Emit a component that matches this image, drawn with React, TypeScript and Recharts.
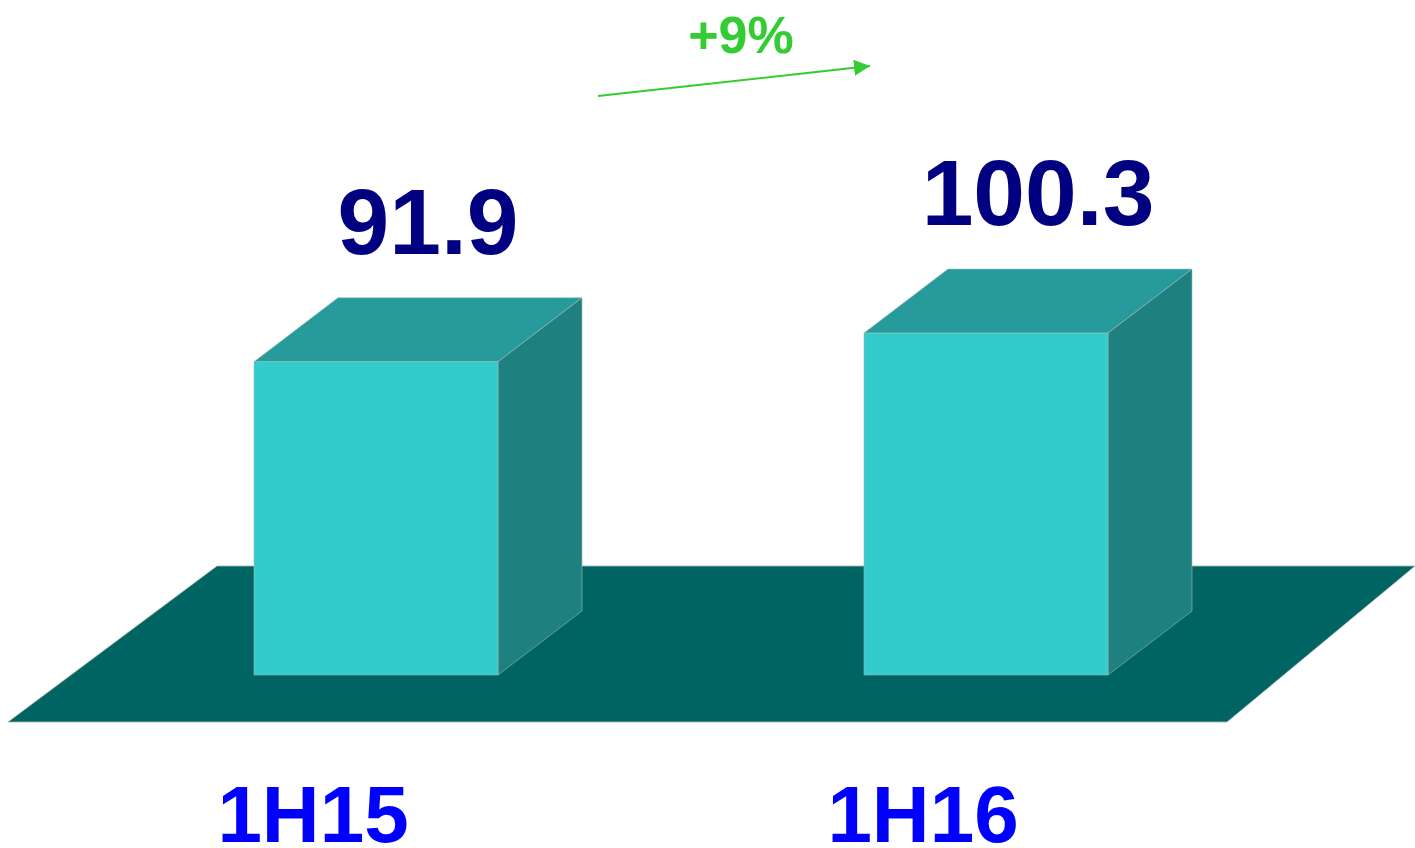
import React from 'react';
import { BarChart, Bar, XAxis, YAxis, LabelList } from 'recharts';

const periods = ['1H15', '1H16'];
const revenue = [91.9, 100.3];
const growthLabel = '+9%';

const data = periods.map((p, i) => ({ period: p, value: revenue[i] }));

const DX = 84;
const DY = 64;
const FONT = '"Liberation Sans", Arial, sans-serif';

const Box = (props: any) => {
  const { x, y, width, height } = props;
  const r = x + width;
  return (
    <g>
      <polygon
        points={`${x},${y} ${x + DX},${y - DY} ${r + DX},${y - DY} ${r},${y}`}
        fill="#279B9B"
        stroke="#9fb8b8"
        strokeWidth={0.6}
      />
      <polygon
        points={`${r},${y} ${r + DX},${y - DY} ${r + DX},${y + height - DY} ${r},${y + height}`}
        fill="#1F8080"
        stroke="#9fb8b8"
        strokeWidth={0.6}
      />
      <rect x={x} y={y} width={width} height={height} fill="#33CCCC" stroke="#9fb8b8" strokeWidth={0.6} />
    </g>
  );
};

const ValueLabel = (props: any) => {
  const { x, y, width, value } = props;
  return (
    <text
      x={x + width / 2 + 52}
      y={y - 108}
      textAnchor="middle"
      fontFamily={FONT}
      fontWeight="bold"
      fontSize={93}
      fill="#000080"
    >
      {value}
    </text>
  );
};

const PeriodTick = (props: any) => {
  const { x, y, payload } = props;
  return (
    <text
      x={x - 63}
      y={y}
      dy={167}
      textAnchor="middle"
      fontFamily={FONT}
      fontWeight="bold"
      fontSize={80}
      fill="#0000FF"
    >
      {payload.value}
    </text>
  );
};

export default function App() {
  return (
    <div style={{ width: 1415, height: 848 }}>
      <style>{'body{margin:0;}'}</style>
      <BarChart
        width={1415}
        height={848}
        data={data}
        margin={{ top: 0, right: 124, left: 71, bottom: 0 }}
        barCategoryGap={0}
      >
        <defs>
          <marker id="arrowHead" markerWidth="8" markerHeight="8" refX="8" refY="4" orient="auto" markerUnits="strokeWidth">
            <path d="M0,0 L8,4 L0,8 z" fill="#33CC33" />
          </marker>
        </defs>
        <polygon points="8,722 217,566 1415,566 1227,722" fill="#006462" stroke="#a9b5b5" strokeWidth={0.8} />
        <line x1={598} y1={96} x2={870} y2={66} stroke="#33CC33" strokeWidth={2} markerEnd="url(#arrowHead)" />
        <text x={741} y={53} textAnchor="middle" fontFamily={FONT} fontWeight="bold" fontSize={52} fill="#33CC33">
          {growthLabel}
        </text>
        <XAxis
          dataKey="period"
          height={173}
          axisLine={false}
          tickLine={false}
          tickSize={0}
          tickMargin={0}
          tick={<PeriodTick />}
        />
        <YAxis hide domain={[0, 198]} />
        <Bar dataKey="value" barSize={244} shape={<Box />} isAnimationActive={false}>
          <LabelList dataKey="value" content={<ValueLabel />} />
        </Bar>
      </BarChart>
    </div>
  );
}
